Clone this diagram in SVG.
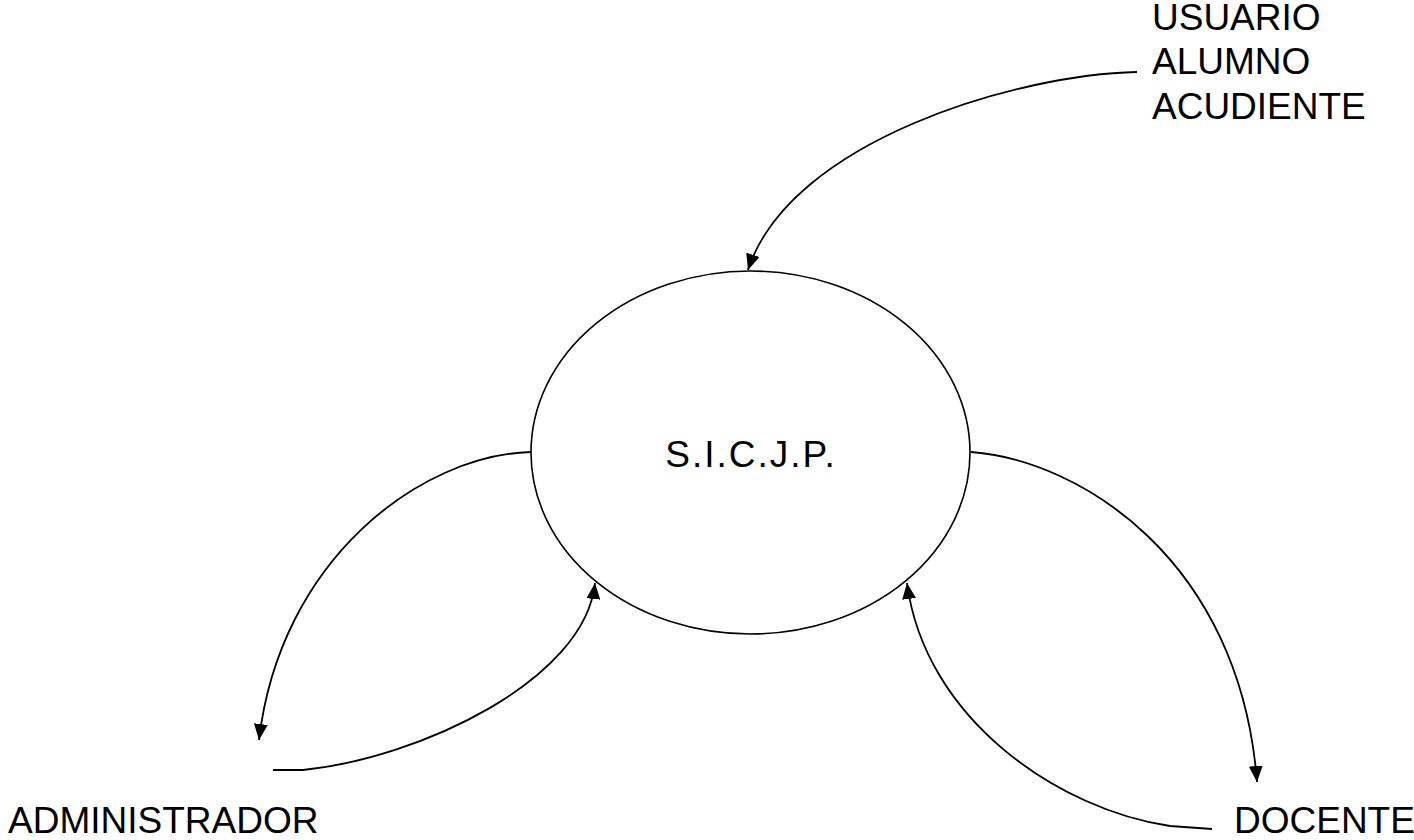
<svg xmlns="http://www.w3.org/2000/svg" width="1414" height="840" viewBox="0 0 1414 840">
  <style>
    .lbl { font-family: "Liberation Sans", Arial, sans-serif; font-size: 37px; fill: #000; }
    .flow { fill: none; stroke: #000; stroke-width: 1.8; stroke-linejoin: round; stroke-linecap: butt; }
    .bubble { fill: #fff; stroke: #000; stroke-width: 1.6; }
  </style>
  <defs>
    <marker id="arrow" viewBox="0 0 16 14" refX="16" refY="7" markerWidth="16" markerHeight="14" markerUnits="userSpaceOnUse" orient="auto">
      <path d="M0,0 L16,7 L0,14 Z" fill="#000"/>
    </marker>
  </defs>
  <rect width="1414" height="840" fill="#fff"/>

  <!-- data flows between the external entities and the system -->
  <g id="connectors">
    <path class="flow" d="M1137,72 C1020,74 790,140 748,270" marker-end="url(#arrow)"/>
    <path class="flow" d="M531,452 C420,455 280,560 259,740" marker-end="url(#arrow)"/>
    <path class="flow" d="M273,770 L303,770 C420,758 585,680 595,583" marker-end="url(#arrow)"/>
    <path class="flow" d="M971,452 C1080,460 1240,560 1257,782" marker-end="url(#arrow)"/>
    <path class="flow" d="M1212,829 L1170,826 C1060,810 925,720 907,583" marker-end="url(#arrow)"/>
  </g>

  <!-- central process -->
  <g id="sicjp">
    <ellipse class="bubble" cx="750.5" cy="452.5" rx="219.5" ry="181.5"/>
    <text class="lbl" x="751" y="467" font-size="38" text-anchor="middle" letter-spacing="2">S.I.C.J.P.</text>
  </g>

  <!-- external entities -->
  <g id="usuario">
    <text class="lbl" x="1152" y="30">USUARIO</text>
    <text class="lbl" x="1152" y="74">ALUMNO</text>
    <text class="lbl" x="1152" y="119">ACUDIENTE</text>
  </g>
  <g id="administrador">
    <text class="lbl" x="8" y="833">ADMINISTRADOR</text>
  </g>
  <g id="docente">
    <text class="lbl" x="1234" y="833">DOCENTE</text>
  </g>
</svg>
